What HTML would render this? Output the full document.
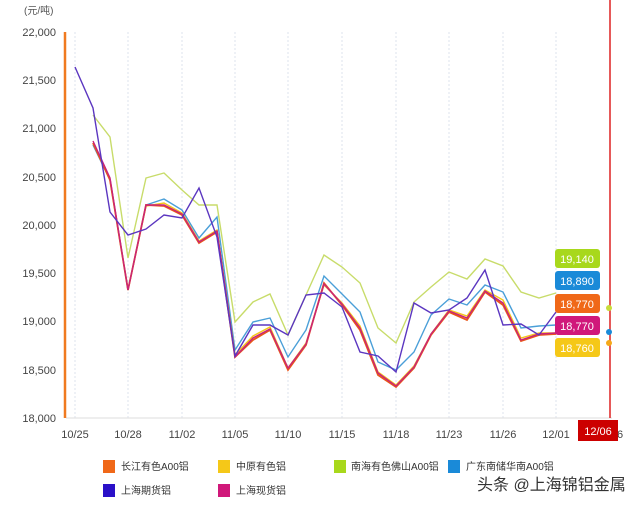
<!DOCTYPE html>
<html><head><meta charset="utf-8"><style>
body{margin:0;background:#fff;width:640px;height:507px;overflow:hidden;font-family:"Liberation Sans","Noto Sans CJK SC",sans-serif}
</style></head><body>
<svg width="640" height="507" xmlns="http://www.w3.org/2000/svg" font-family="Liberation Sans, Noto Sans CJK SC, sans-serif">
<text x="24" y="14" font-size="10" fill="#555">(元/吨)</text>
<g font-size="11" fill="#444" text-anchor="end">
<text x="56" y="36">22,000</text><text x="56" y="84">21,500</text><text x="56" y="132">21,000</text>
<text x="56" y="181">20,500</text><text x="56" y="229">20,000</text><text x="56" y="277">19,500</text>
<text x="56" y="325">19,000</text><text x="56" y="374">18,500</text><text x="56" y="422">18,000</text>
</g>
<g stroke="#dde3ee" stroke-dasharray="2,2">
<line x1="75" y1="32" x2="75" y2="418"/><line x1="128" y1="32" x2="128" y2="418"/><line x1="182" y1="32" x2="182" y2="418"/>
<line x1="235" y1="32" x2="235" y2="418"/><line x1="288" y1="32" x2="288" y2="418"/><line x1="342" y1="32" x2="342" y2="418"/>
<line x1="396" y1="32" x2="396" y2="418"/><line x1="449" y1="32" x2="449" y2="418"/><line x1="503" y1="32" x2="503" y2="418"/>
<line x1="556" y1="32" x2="556" y2="418"/>
</g>
<line x1="66" y1="418" x2="612" y2="418" stroke="#ddd"/>
<line x1="65" y1="32" x2="65" y2="418" stroke="#f07a20" stroke-width="2.5"/>
<g font-size="11" fill="#444" text-anchor="middle">
<text x="75" y="438">10/25</text><text x="128" y="438">10/28</text><text x="182" y="438">11/02</text>
<text x="235" y="438">11/05</text><text x="288" y="438">11/10</text><text x="342" y="438">11/15</text>
<text x="396" y="438">11/18</text><text x="449" y="438">11/23</text><text x="503" y="438">11/26</text>
<text x="556" y="438">12/01</text><text x="620" y="438">6</text>
</g>
<g fill="none" stroke-width="1.4">
<polyline stroke="#c8dc6a" points="93,115 110,137 128,258 146,178 164,173 182,190 199,205 217,205 235,322 253,302 270,294 288,335 306,295 324,255 342,267 360,283 378,328 396,343 414,302 431,287 449,272 467,279 485,259 503,266 521,292 539,298 556,293"/>
<polyline stroke="#4a9fd8" points="93,145 110,180 128,290 146,205 164,199 182,210 199,238 217,217 235,350 253,322 270,318 288,357 306,330 324,276 342,294 360,312 378,362 396,370 414,352 431,315 449,299 467,305 485,285 503,292 521,328 539,326 556,325"/>
<polyline stroke="#f5c518" points="93,143 110,180 128,290 146,206 164,203 182,213 199,241 217,230 235,355 253,336 270,327 288,368 306,343 324,285 342,303 360,326 378,372 396,385 414,366 431,334 449,310 467,316 485,290 503,300 521,338 539,333 556,333"/>
<polyline stroke="#e8561a" stroke-width="1.8" points="93,143 110,180 128,290 146,205 164,206 182,215 199,243 217,232 235,357 253,340 270,330 288,370 306,345 324,283 342,305 360,330 378,375 396,387 414,368 431,335 449,312 467,320 485,292 503,305 521,341 539,335 556,334"/>
<polyline stroke="#c8237a" points="93,141 110,178 128,290 146,205 164,205 182,214 199,242 217,231 235,357 253,338 270,329 288,368 306,344 324,284 342,304 360,328 378,373 396,386 414,367 431,334 449,311 467,318 485,291 503,303 521,340 539,334 556,333"/>
<polyline stroke="#5b36c0" points="75,67 93,108 110,212 128,235 146,229 164,215 182,218 199,188 217,237 235,356 253,325 270,325 288,335 306,295 324,293 342,307 360,352 378,356 396,372 414,303 431,313 449,310 467,298 485,270 503,325 521,324 539,335 556,312"/>
</g>
<line x1="610" y1="0" x2="610" y2="418" stroke="#d22" stroke-width="1.5"/>
<circle cx="609" cy="308" r="3" fill="#c8dc3a"/><circle cx="609" cy="332" r="3" fill="#1a8ad8"/><circle cx="609" cy="343" r="3" fill="#f5a818"/>
<g font-size="11" fill="#fff" text-anchor="middle">
<rect x="555" y="249" width="45" height="19" rx="3" fill="#a8d81c"/><text x="577" y="263">19,140</text>
<rect x="555" y="271" width="45" height="19" rx="3" fill="#1a8ad8"/><text x="577" y="285">18,890</text>
<rect x="555" y="294" width="45" height="19" rx="3" fill="#f06818"/><text x="577" y="308">18,770</text>
<rect x="555" y="316" width="45" height="19" rx="3" fill="#d0187a"/><text x="577" y="330">18,770</text>
<rect x="555" y="338" width="45" height="19" rx="3" fill="#f5c818"/><text x="577" y="352">18,760</text>
<rect x="578" y="420" width="40" height="21" fill="#cc0000"/><text x="598" y="435">12/06</text>
</g>
<g font-size="10" fill="#333">
<rect x="103" y="460" width="12" height="13" fill="#f06818"/><text x="121" y="470">长江有色A00铝</text>
<rect x="218" y="460" width="12" height="13" fill="#f5c818"/><text x="236" y="470">中原有色铝</text>
<rect x="334" y="460" width="12" height="13" fill="#a8d81c"/><text x="351" y="470">南海有色佛山A00铝</text>
<rect x="448" y="460" width="12" height="13" fill="#1a8ad8"/><text x="466" y="470">广东南储华南A00铝</text>
<rect x="103" y="484" width="12" height="13" fill="#2a10c8"/><text x="121" y="494">上海期货铝</text>
<rect x="218" y="484" width="12" height="13" fill="#d0187a"/><text x="236" y="494">上海现货铝</text>
</g>
<text x="477" y="490" font-size="16" fill="#333">头条 @上海锦铝金属</text>
</svg>
</body></html>
